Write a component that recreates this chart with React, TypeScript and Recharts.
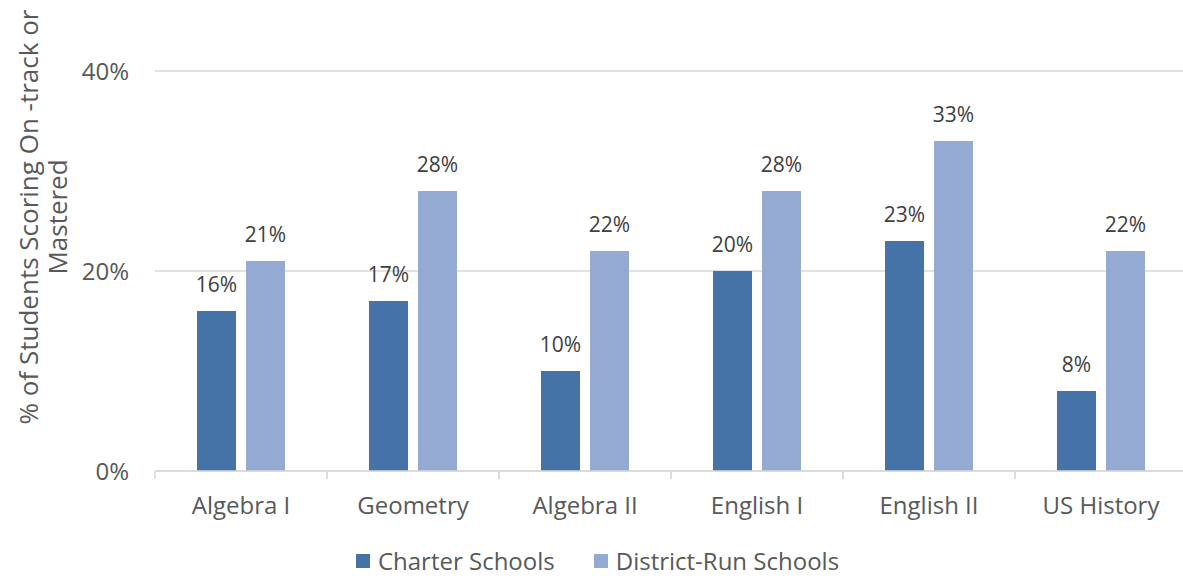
import { BarChart, Bar, XAxis, YAxis, CartesianGrid, Legend, LabelList, Label } from 'recharts'

const subjects = ['Algebra I', 'Geometry', 'Algebra II', 'English I', 'English II', 'US History']
const charterPct = [16, 17, 10, 20, 23, 8]
const districtPct = [21, 28, 22, 28, 33, 22]
const yTicks = [0, 20, 40]

const data = subjects.map((s, i) => ({ subject: s, charter: charterPct[i], district: districtPct[i] }))

const FONT = '"Open Sans", sans-serif'
const CHARTER = '#4572a7'
const DISTRICT = '#94aad2'
const GRID = '#d9d9d9'

function CategoryTick(props: any) {
  const { x, y, payload, width, visibleTicksCount } = props
  const half = width / visibleTicksCount / 2
  return (
    <g>
      <line x1={x - half} x2={x - half} y1={y - 8} y2={y} stroke={GRID} strokeWidth={1.5} />
      <line x1={x + half} x2={x + half} y1={y - 8} y2={y} stroke={GRID} strokeWidth={1.5} />
      <text x={x} y={y + 35} textAnchor="middle" fill="#595959" fontSize={24} fontFamily={FONT}>
        {payload.value}
      </text>
    </g>
  )
}

function YTitle() {
  return (
    <text transform="translate(38, 217) rotate(-90)" textAnchor="middle" fill="#595959" fontSize={26} fontFamily={FONT}>
      <tspan x={0} dy={0}>% of Students Scoring On -track or</tspan>
      <tspan x={0} dy={29}>Mastered</tspan>
    </text>
  )
}

function LegendBox() {
  const items = [
    { name: 'Charter Schools', color: CHARTER },
    { name: 'District-Run Schools', color: DISTRICT },
  ]
  return (
    <div style={{ display: 'flex', justifyContent: 'center', gap: 39, fontFamily: FONT, fontSize: 24, color: '#595959', paddingLeft: 8 }}>
      {items.map(it => (
        <div key={it.name} style={{ display: 'flex', alignItems: 'center', gap: 8 }}>
          <span style={{ width: 14, height: 14, background: it.color, display: 'inline-block' }} />
          <span>{it.name}</span>
        </div>
      ))}
    </div>
  )
}

export default function App() {
  return (
    <div style={{ position: 'absolute', left: 0, top: 0, width: 1183, height: 578, overflow: 'hidden', background: '#fff' }}>
      <BarChart
        width={1187}
        height={578}
        data={data}
        margin={{ top: 71, right: 0, left: 0, bottom: 17 }}
        barCategoryGap={42}
        barGap={10}
      >
        <CartesianGrid vertical={false} stroke={GRID} strokeWidth={1.5} />
        <XAxis
          dataKey="subject"
          height={50}
          stroke={GRID}
          strokeWidth={1.5}
          tickLine={false}
          interval={0}
          tick={<CategoryTick />}
        />
        <YAxis
          width={155}
          domain={[0, 40]}
          ticks={yTicks}
          axisLine={false}
          tickLine={false}
          tickMargin={20}
          tickFormatter={v => `${v}%`}
          tick={{ fill: '#595959', fontSize: 24, fontFamily: FONT }}
        >
          <Label content={<YTitle />} />
        </YAxis>
        <Legend verticalAlign="bottom" height={40} content={<LegendBox />} wrapperStyle={{ top: 544, bottom: 'auto' }} />
        <Bar dataKey="charter" name="Charter Schools" fill={CHARTER} isAnimationActive={false}>
          <LabelList dataKey="charter" position="top" offset={19} formatter={(v: any) => `${v}%`} fill="#404040" fontSize={21} fontFamily={FONT} />
        </Bar>
        <Bar dataKey="district" name="District-Run Schools" fill={DISTRICT} isAnimationActive={false}>
          <LabelList dataKey="district" position="top" offset={19} formatter={(v: any) => `${v}%`} fill="#404040" fontSize={21} fontFamily={FONT} />
        </Bar>
      </BarChart>
    </div>
  )
}
